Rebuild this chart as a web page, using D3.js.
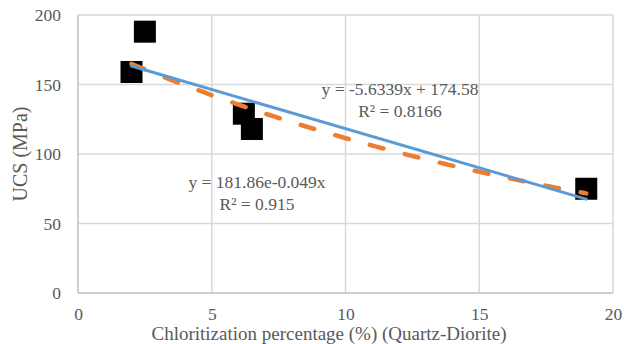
<!DOCTYPE html>
<html>
<head>
<meta charset="utf-8">
<script src="https://cdn.jsdelivr.net/npm/d3@7"></script>
<style>
  html, body { margin: 0; padding: 0; background: #fff; }
  svg text { font-family: "Liberation Serif", "DejaVu Serif", serif; fill: #595959; }
</style>
</head>
<body>
<svg id="chart" width="624" height="344"></svg>
<script>
// Chloritization percentage vs. uniaxial compressive strength
const chloritization = [2, 2.5, 6.2, 6.5, 19];
const ucs = [159, 188, 129, 118, 75];
const xTicks = [0, 5, 10, 15, 20];
const yTicks = [0, 50, 100, 150, 200];

// Trendline fits as reported on the chart
const linearFit = { slope: -5.6339, intercept: 174.58, r2: "0.8166" };
const expFit = { a: 181.86, b: -0.049, r2: "0.915" };

const svg = d3.select("#chart");
const margin = { left: 78, right: 11, top: 15, bottom: 51 };
const W = 624, H = 344;

const x = d3.scaleLinear().domain([0, 20]).range([margin.left, W - margin.right]);
const y = d3.scaleLinear().domain([0, 200]).range([H - margin.bottom, margin.top]);

// Gridlines
svg.append("g")
  .selectAll("line")
  .data(xTicks.slice(1))
  .join("line")
  .attr("x1", d => x(d)).attr("x2", d => x(d))
  .attr("y1", y(0)).attr("y2", y(200))
  .attr("stroke", "#d9d9d9").attr("stroke-width", 1.5);

svg.append("g")
  .selectAll("line")
  .data(yTicks.slice(1))
  .join("line")
  .attr("x1", x(0)).attr("x2", x(20))
  .attr("y1", d => y(d)).attr("y2", d => y(d))
  .attr("stroke", "#d9d9d9").attr("stroke-width", 1.5);

// Axis lines
svg.append("line")
  .attr("x1", x(0)).attr("x2", x(0)).attr("y1", y(0)).attr("y2", y(200))
  .attr("stroke", "#bfbfbf").attr("stroke-width", 1.5);
svg.append("line")
  .attr("x1", x(0)).attr("x2", x(20)).attr("y1", y(0)).attr("y2", y(0))
  .attr("stroke", "#bfbfbf").attr("stroke-width", 1.5);

// Tick labels via d3 axes (domain/tick marks hidden)
const xAxis = svg.append("g")
  .attr("transform", `translate(0,${y(0)})`)
  .call(d3.axisBottom(x).tickValues(xTicks).tickSize(0).tickPadding(15));
const yAxis = svg.append("g")
  .attr("transform", `translate(${x(0)},0)`)
  .call(d3.axisLeft(y).tickValues(yTicks).tickSize(0).tickPadding(17));
[xAxis, yAxis].forEach(g => {
  g.select(".domain").remove();
  g.selectAll("text").attr("font-size", 17.5).attr("fill", "#595959")
    .attr("font-family", "Liberation Serif, serif");
});

// Scatter markers
const pts = chloritization.map((c, i) => [c, ucs[i]]);
svg.append("g")
  .selectAll("rect")
  .data(pts)
  .join("rect")
  .attr("x", d => x(d[0]) - 11)
  .attr("y", d => y(d[1]) - 11)
  .attr("width", 22).attr("height", 22)
  .attr("fill", "#000");

// Trendlines across the data range
const xMin = d3.min(chloritization), xMax = d3.max(chloritization);
const samples = d3.range(0, 101).map(i => xMin + (xMax - xMin) * i / 100);

const line = d3.line().x(d => x(d[0])).y(d => y(d[1]));

svg.append("path")
  .datum(samples.map(v => [v, expFit.a * Math.exp(expFit.b * v)]))
  .attr("d", line)
  .attr("fill", "none")
  .attr("stroke", "#ed7d31")
  .attr("stroke-width", 4.5)
  .attr("stroke-linecap", "round")
  .attr("stroke-dasharray", "14,22");

svg.append("path")
  .datum([xMin, xMax].map(v => [v, linearFit.slope * v + linearFit.intercept]))
  .attr("d", line)
  .attr("fill", "none")
  .attr("stroke", "#5b9bd5")
  .attr("stroke-width", 3)
  .attr("stroke-linecap", "round");

// Equation labels
svg.append("text")
  .attr("x", 400).attr("y", 95).attr("text-anchor", "middle").attr("font-size", 17.5)
  .text(`y = ${linearFit.slope}x + ${linearFit.intercept}`);
svg.append("text")
  .attr("x", 400).attr("y", 117).attr("text-anchor", "middle").attr("font-size", 17.5)
  .text(`R² = ${linearFit.r2}`);
svg.append("text")
  .attr("x", 257).attr("y", 188).attr("text-anchor", "middle").attr("font-size", 17.5)
  .text(`y = ${expFit.a}e${expFit.b}x`);
svg.append("text")
  .attr("x", 257).attr("y", 210).attr("text-anchor", "middle").attr("font-size", 17.5)
  .text(`R² = ${expFit.r2}`);

// Axis titles
svg.append("text")
  .attr("x", 329).attr("y", 339.5).attr("text-anchor", "middle").attr("font-size", 19)
  .text("Chloritization percentage (%) (Quartz-Diorite)");
svg.append("text")
  .attr("transform", "translate(27,154) rotate(-90)")
  .attr("text-anchor", "middle").attr("font-size", 20)
  .text("UCS (MPa)");
</script>
</body>
</html>
